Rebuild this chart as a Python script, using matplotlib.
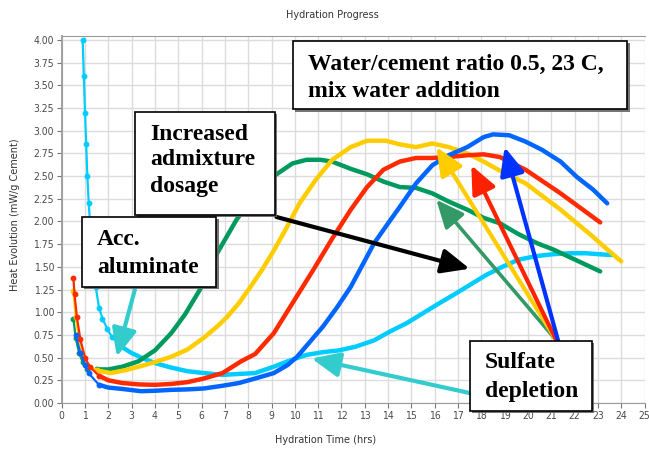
import matplotlib
matplotlib.use("Agg")
import matplotlib.pyplot as plt
import matplotlib.patheffects as pe
from matplotlib.patches import Rectangle

# Curvas de calor de hidratacion (mW/g cemento)
green_x = [0.5, 0.6, 0.75, 0.9, 1.1, 1.5, 2.0, 2.6, 3.3, 4.0, 4.7, 5.3, 6.0, 6.6,
           7.5, 8.3, 9.1, 9.9, 10.5, 11.1, 11.6, 12.4, 13.1, 13.8, 14.5, 15.2,
           15.9, 16.6, 17.4, 18.1, 18.8, 19.6, 20.4, 21.1, 22.1, 23.1]
green_y = [0.93, 0.72, 0.55, 0.45, 0.38, 0.37, 0.37, 0.40, 0.46, 0.58, 0.77, 0.98,
           1.28, 1.62, 2.02, 2.30, 2.50, 2.64, 2.68, 2.68, 2.66, 2.58, 2.52, 2.44,
           2.38, 2.37, 2.31, 2.22, 2.13, 2.04, 1.98, 1.86, 1.76, 1.69, 1.57, 1.45]

yellow_x = [0.5, 0.6, 0.75, 0.9, 1.1, 1.5, 2.1, 2.7, 3.3, 4.0, 4.7, 5.4, 6.1, 6.7,
            7.1, 7.6, 8.1, 8.6, 9.1, 9.6, 10.2, 10.9, 11.6, 12.4, 13.1, 13.9, 14.5,
            15.2, 15.9, 16.6, 17.4, 18.1, 18.8, 19.9, 21.4, 22.8, 23.1, 24.0]
yellow_y = [1.23, 0.95, 0.70, 0.52, 0.42, 0.36, 0.33, 0.36, 0.40, 0.45, 0.51, 0.59,
            0.72, 0.85, 0.95, 1.10, 1.28, 1.47, 1.68, 1.91, 2.20, 2.46, 2.68, 2.82,
            2.89, 2.89, 2.85, 2.82, 2.86, 2.82, 2.75, 2.66, 2.56, 2.42, 2.13, 1.83,
            1.76, 1.56]

red_x = [0.5, 0.55, 0.65, 0.8, 1.0, 1.2, 1.6, 2.0, 2.6, 3.3, 4.0, 4.7, 5.4, 6.1,
         6.9, 7.7, 8.3, 9.1, 9.9, 10.8, 11.6, 12.4, 13.1, 13.8, 14.5, 15.2, 15.9,
         16.6, 17.4, 18.1, 18.8, 19.9, 21.4, 23.1]
red_y = [1.38, 1.20, 0.95, 0.70, 0.50, 0.40, 0.30, 0.25, 0.22, 0.205, 0.20, 0.21,
         0.23, 0.27, 0.33, 0.46, 0.54, 0.77, 1.10, 1.47, 1.81, 2.13, 2.38, 2.57,
         2.66, 2.70, 2.70, 2.71, 2.73, 2.74, 2.71, 2.57, 2.31, 1.99]

blue_x = [0.6, 0.8, 1.0, 1.15, 1.6, 2.0, 2.6, 3.4, 4.0, 4.7, 5.4, 6.1, 6.9, 7.6,
          8.3, 9.1, 9.7, 10.1, 10.6, 11.2, 11.8, 12.4, 12.9, 13.4, 14.0, 14.5,
          15.2, 15.9, 16.6, 17.4, 18.1, 18.5, 19.2, 19.9, 20.6, 21.4, 22.1, 22.8,
          23.4]
blue_y = [0.75, 0.55, 0.42, 0.33, 0.20, 0.17, 0.155, 0.13, 0.135, 0.145, 0.15,
          0.16, 0.19, 0.22, 0.27, 0.33, 0.42, 0.51, 0.66, 0.84, 1.05, 1.28, 1.52,
          1.76, 1.98, 2.16, 2.42, 2.62, 2.73, 2.82, 2.93, 2.96, 2.95, 2.88, 2.79,
          2.66, 2.49, 2.35, 2.20]

cyan_x = [0.9, 0.95, 1.0, 1.05, 1.1, 1.16, 1.25, 1.35, 1.46, 1.6, 1.75, 1.95, 2.15,
          2.5, 3.0, 3.5, 4.0, 4.7, 5.4, 6.1, 6.9, 7.6, 8.3, 9.1, 9.8, 10.5, 11.2,
          11.9, 12.6, 13.4, 14.1, 14.8, 15.5, 16.2, 16.8, 17.5, 18.2, 18.9, 19.6,
          20.4, 21.1, 21.8, 22.5, 23.0, 23.6]
cyan_y = [4.00, 3.60, 3.20, 2.85, 2.50, 2.20, 1.85, 1.55, 1.28, 1.05, 0.93, 0.82,
          0.73, 0.63, 0.55, 0.49, 0.44, 0.39, 0.35, 0.33, 0.31, 0.32, 0.33, 0.40,
          0.47, 0.53, 0.56, 0.58, 0.62, 0.69, 0.79, 0.88, 0.99, 1.10, 1.19, 1.30,
          1.41, 1.50, 1.58, 1.62, 1.64, 1.65, 1.65, 1.64, 1.63]

x_ticks = list(range(0, 26))
y_ticks = [i * 0.25 for i in range(17)]

CV = {"green": "#009A5E", "yellow": "#FFCC00", "red": "#FF2A00",
      "blue": "#0066FF", "cyan": "#00CCFF"}

fig = plt.figure(figsize=(6.49, 4.49), dpi=100)
ax = fig.add_axes([61.7 / 649, 46 / 449, 582.8 / 649, 367 / 449])
ax.set_xlim(0, 25)
ax.set_ylim(0, 4.044)

ax.set_xticks(x_ticks)
ax.set_yticks(y_ticks)
ax.set_yticklabels([f"{v:.2f}" for v in y_ticks])
ax.grid(True, color="#dcdcdc", lw=1.0, zorder=0)
ax.set_axisbelow(True)
for s in ax.spines.values():
    s.set_color("#9a9a9a")
ax.spines["left"].set_linewidth(1.3)
ax.spines["right"].set_visible(False)
ax.tick_params(length=3.5, width=0.8, color="#777777", labelcolor="#4a4a4a",
               labelsize=7.5, pad=2)
for lab in ax.get_xticklabels() + ax.get_yticklabels():
    lab.set_fontstretch("condensed")

# curvas (los tramos iniciales empinados se ven como puntos)
series = [(cyan_x, cyan_y, "cyan", 13), (green_x, green_y, "green", 5),
          (yellow_x, yellow_y, "yellow", 5), (red_x, red_y, "red", 6),
          (blue_x, blue_y, "blue", 4)]
for xs, ys, c, k in series:
    ax.plot(xs[:k + 1], ys[:k + 1], color=CV[c], lw=1.6, marker="o", ms=3.2,
            zorder=3)
    ax.plot(xs[k:], ys[k:], color=CV[c], lw=3.2, solid_capstyle="round",
            solid_joinstyle="round", zorder=3)


def arrow(tail, tip, color, lw=3.0):
    ax.annotate("", xy=tip, xytext=tail,
                arrowprops=dict(arrowstyle="-|>,head_length=1.7,head_width=0.75",
                                mutation_scale=10, color=color, lw=lw,
                                shrinkA=0, shrinkB=0),
                annotation_clip=False, zorder=6)


def box(x0, y0, x1, y1, lines, tx, bases):
    r = Rectangle((x0, y0), x1 - x0, y1 - y0, facecolor="white",
                  edgecolor="black", lw=1.2, clip_on=False, zorder=7)
    r.set_path_effects([pe.SimplePatchShadow(offset=(1.5, -1.5),
                                             shadow_rgbFace="#666666", alpha=0.9),
                        pe.Normal()])
    ax.add_patch(r)
    for line, b in zip(lines, bases):
        ax.text(tx, b, line, family="Liberation Serif", weight="bold",
                fontsize=17, va="baseline", ha="left", zorder=8)


arrow((9.21, 2.05), (17.5, 1.48), "black", lw=3.0)
arrow((21.22, 0.69), (16.07, 2.24), "#339966", lw=2.6)
arrow((21.22, 0.69), (16.07, 2.82), "#FFCC00")
arrow((21.22, 0.69), (17.57, 2.62), "#FF2200")
arrow((21.29, 0.69), (19.0, 2.82), "#0033FF")
arrow((3.14, 1.25), (2.36, 0.51), "#33CCCC")
arrow((17.5, 0.11), (10.72, 0.49), "#33CCCC")

box(9.92, 3.235, 24.27, 3.99, ["Water/cement ratio 0.5, 23 C,",
                               "mix water addition"], 10.57, [3.67, 3.37])
box(3.14, 2.07, 9.14, 3.21, ["Increased", "admixture", "dosage"], 3.78,
    [2.90, 2.62, 2.33])
box(0.87, 1.28, 6.64, 2.05, ["Acc.", "aluminate"], 1.51, [1.74, 1.43])
box(17.5, -0.09, 22.76, 0.687, ["Sulfate", "depletion"], 18.14, [0.386, 0.07])

fig.text(332 / 649, 1 - 15 / 449, "Hydration Progress", ha="center",
         va="center", fontsize=7, color="#333333")
fig.text(326 / 649, 1 - 440 / 449, "Hydration Time (hrs)", ha="center",
         va="center", fontsize=7, color="#333333")
fig.text(15 / 649, 1 - 215 / 449, "Heat Evolution (mW/g Cement)", ha="center",
         va="center", rotation=90, fontsize=7, color="#333333")

fig.savefig("out.png", dpi=100)
